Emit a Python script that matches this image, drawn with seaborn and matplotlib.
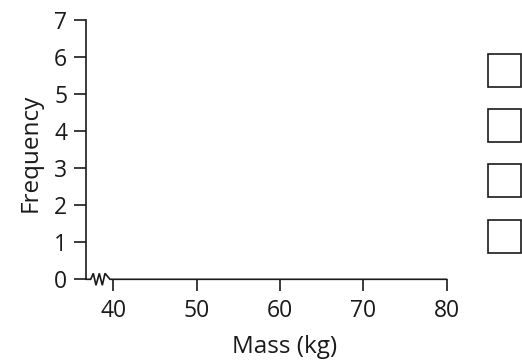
import matplotlib
matplotlib.use("Agg")
import matplotlib.pyplot as plt
from matplotlib.patches import Rectangle
import seaborn as sns

# Data (empty frequency chart)
x_ticks = [40, 50, 60, 70, 80]
y_ticks = [0, 1, 2, 3, 4, 5, 6, 7]
legend_labels = ["", "", "", ""]
x_label = "Mass (kg)"
y_label = "Frequency"

sns.set_theme(style="ticks")
plt.rcParams['font.family'] = ['Open Sans', 'DejaVu Sans']

W, H = 522, 362
fig = plt.figure(figsize=(W/100, H/100), dpi=100)
L, R, B, T = 86, 446.7, 279.3, 19.6
ax = fig.add_axes([L/W, (H-B)/H, (R-L)/W, (B-T)/H])

x0 = 36.72
ax.set_xlim(x0, 80)
ax.set_ylim(0, 7)
ax.set_xticks(x_ticks)
ax.set_yticks(y_ticks)
ink = "#1a1a1a"
ax.tick_params(labelsize=16.5, length=8.5, width=1.2, colors=ink, labelcolor=ink)
ax.tick_params(axis="y", pad=5)
ax.tick_params(axis="x", pad=6)
for s in ["top", "right", "bottom"]:
    ax.spines[s].set_visible(False)
ax.spines["left"].set_linewidth(1.2)
ax.spines["left"].set_color(ink)

# x-axis line with zigzag break
u = 1/8.333
zx = [x0, x0 + 4.7*u, x0 + 7.3*u, x0 + 10*u, x0 + 13.3*u, x0 + 16.3*u, x0 + 19*u, x0 + 24*u, 80]
zy = [0, 0, 0.16, -0.16, 0.16, -0.16, 0.16, 0, 0]
ax.plot(zx, zy, color=ink, lw=1.2, clip_on=False, solid_joinstyle="miter")

ax.set_xlabel(x_label, fontsize=17.5, color=ink)
ax.set_ylabel(y_label, fontsize=17.5, color=ink)
ax.xaxis.set_label_coords((284.5 - L)/(R-L), (B-347)/(B-T))
ax.xaxis.label.set_va("center")
ax.yaxis.set_label_coords((31-L)/(R-L), (B-152.5)/(B-T))
ax.yaxis.label.set_va("center")

# empty legend boxes
tops = [54, 109, 164, 220]
for t, lab in zip(tops, legend_labels):
    fig.patches.append(Rectangle((488/W, (H-t-33)/H), 33/W, 33/H,
                                 transform=fig.transFigure, facecolor="white",
                                 edgecolor=ink, lw=1.2))

fig.savefig("out.png", dpi=100)
